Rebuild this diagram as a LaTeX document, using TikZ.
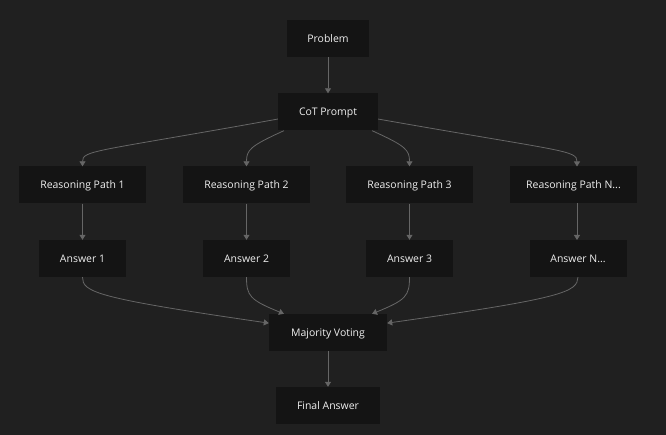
\documentclass[tikz,border=0pt]{standalone}
\usepackage{fontspec}
\setmainfont{Open Sans}
\usetikzlibrary{arrows.meta}
\definecolor{bgcol}{RGB}{32,32,32}
\definecolor{boxcol}{RGB}{20,20,20}
\definecolor{linecol}{RGB}{102,102,102}
\definecolor{textcol}{RGB}{240,240,240}
\tikzset{
  stepbox/.style={fill=boxcol, text=textcol, font=\fontsize{10.5}{12}\selectfont,
    minimum height=37bp, inner sep=0pt, text height=7.6bp, text depth=0pt},
  flow/.style={draw=linecol, line width=0.8bp, -{Triangle[length=5bp,width=6bp]}}
}
\begin{document}
\begin{tikzpicture}[x=1bp,y=-1bp]
% Background
\fill[bgcol] (0,0) rectangle (666,435);
% Top nodes
\node[stepbox, minimum width=82bp] (problem) at (328,38.5) {Problem};
\node[stepbox, minimum width=100bp] (cot) at (328,112) {CoT Prompt};
% Reasoning paths
\node[stepbox, minimum width=127bp] (path1) at (82.5,185) {Reasoning Path 1};
\node[stepbox, minimum width=127bp] (path2) at (246.5,185) {Reasoning Path 2};
\node[stepbox, minimum width=127bp] (path3) at (409.5,185) {Reasoning Path 3};
\node[stepbox, minimum width=127bp] (pathN) at (573.5,185) {Reasoning Path N...};
% Answers
\node[stepbox, minimum width=87bp] (ans1) at (82.5,258.5) {Answer 1};
\node[stepbox, minimum width=87bp] (ans2) at (246.5,258.5) {Answer 2};
\node[stepbox, minimum width=87bp] (ans3) at (409.5,258.5) {Answer 3};
\node[stepbox, minimum width=97bp] (ansN) at (578,258.5) {Answer N...};
% Bottom nodes
\node[stepbox, minimum width=118bp] (vote) at (328,332.5) {Majority Voting};
\node[stepbox, minimum width=104bp] (final) at (328,405.5) {Final Answer};
% Draw arrows
\draw[flow] (problem) -- (cot);
\draw[flow] (cot.188) .. controls (95,152) and (82.5,150) .. (path1.north);
\draw[flow] (cot.203) .. controls (250,146) and (246.5,150) .. (path2.north);
\draw[flow] (cot.-23) .. controls (406,146) and (409.5,150) .. (path3.north);
\draw[flow] (cot.-8) .. controls (565,152) and (577,150) .. (577,166.5);
\draw[flow] (path1) -- (ans1);
\draw[flow] (path2) -- (ans2);
\draw[flow] (path3) -- (ans3);
\draw[flow] (577,203.5) -- (577,240);
\draw[flow] (ans1.south) .. controls (82.5,292) and (95,298) .. (vote.171);
\draw[flow] (ans2.south) .. controls (246.5,296) and (250,300) .. (vote.157);
\draw[flow] (ans3.south) .. controls (409.5,296) and (406,300) .. (vote.23);
\draw[flow] (ansN.south) .. controls (577,292) and (565,298) .. (vote.9);
\draw[flow] (vote) -- (final);
\end{tikzpicture}
\end{document}
